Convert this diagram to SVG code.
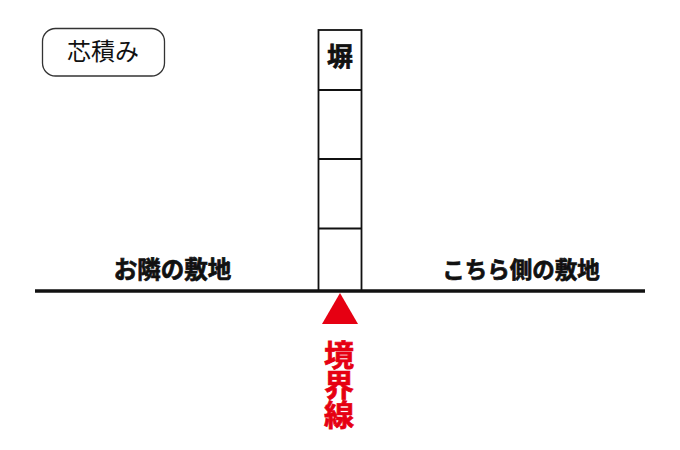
<svg xmlns="http://www.w3.org/2000/svg" width="680" height="450" viewBox="0 0 680 450">
<style>
.jp{font-family:"Noto Sans CJK JP","Noto Sans",sans-serif;}
.b{font-weight:bold;stroke-width:0.7;paint-order:stroke;}
.ln{stroke:#111;fill:none;}
</style>
<rect width="680" height="450" fill="#fff"/>
<g id="label-box">
<rect x="42.5" y="28.5" width="122" height="47.5" rx="13" ry="13" fill="#fff" stroke="#333" stroke-width="1.3"/>
<text x="103" y="60" class="jp" font-size="24" text-anchor="middle" fill="#111">芯積み</text>
</g>
<g id="wall">
<rect x="318.5" y="30" width="43" height="261" fill="#fff" class="ln" stroke-width="1.8"/>
<line x1="318.5" y1="90" x2="361.5" y2="90" class="ln" stroke-width="1.8"/>
<line x1="318.5" y1="159" x2="361.5" y2="159" class="ln" stroke-width="1.8"/>
<line x1="318.5" y1="228.5" x2="361.5" y2="228.5" class="ln" stroke-width="1.8"/>
<text x="340" y="66" class="jp b" font-size="26" text-anchor="middle" fill="#111" stroke="#111">塀</text>
</g>
<g id="connectors">
<line x1="35" y1="291" x2="645" y2="291" stroke="#111" stroke-width="3.5"/>
</g>
<g id="neighbor">
<text x="172.5" y="278" class="jp b" font-size="23.5" text-anchor="middle" fill="#111" stroke="#111">お隣の敷地</text>
</g>
<g id="ours">
<text x="521" y="278" class="jp b" font-size="22.5" text-anchor="middle" fill="#111" stroke="#111">こちら側の敷地</text>
</g>
<g id="boundary">
<polygon points="340,293 322,324 358,324" fill="#e60012"/>
<text x="339" y="340" class="jp b" font-size="30" fill="#e60012" stroke="#e60012" writing-mode="vertical-rl" style="writing-mode:vertical-rl">境界線</text>
</g>
</svg>
